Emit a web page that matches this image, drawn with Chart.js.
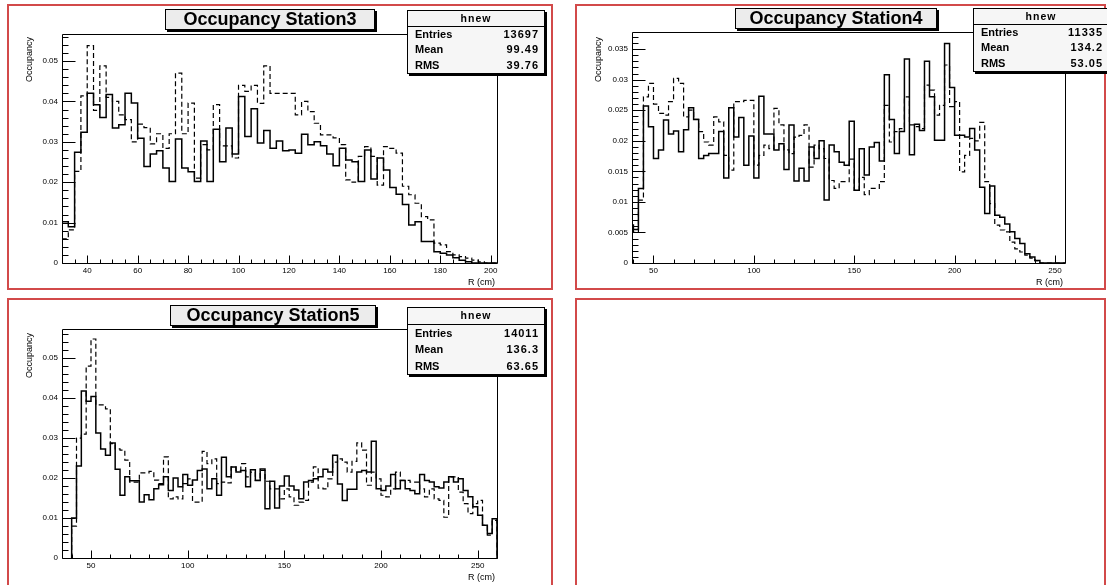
<!DOCTYPE html>
<html>
<head>
<meta charset="utf-8">
<title>Occupancy per station</title>
<script src="https://cdn.jsdelivr.net/npm/chart.js@4.4.1/dist/chart.umd.min.js"></script>
<style>
  html, body { margin: 0; padding: 0; background: #fff; }
  body {
    position: relative; width: 1107px; height: 585px; overflow: hidden;
    font-family: "Liberation Sans", Arial, Helvetica, sans-serif; color: #000;
  }
  .pad { position: absolute; box-sizing: border-box; border: 2px solid #d24a4a; }
  canvas { position: absolute; }
  .htitle {
    position: absolute; box-sizing: border-box; height: 21px; background: #ececec;
    border: 1px solid #000; box-shadow: 2px 2px 0 #000; font-weight: bold; font-size: 18px;
    line-height: 19px; text-align: center; white-space: nowrap; z-index: 2;
  }
  .stats {
    position: absolute; box-sizing: border-box; background: #f6f6f6; border: 1px solid #000;
    box-shadow: 2px 2px 0 #000; font-size: 11px; font-weight: bold; z-index: 2; overflow: hidden;
  }
  .stats .hd { text-align: center; border-bottom: 1px solid #000; font-size: 10.5px; letter-spacing: 1px; }
  .stats .row { display: flex; justify-content: space-between; padding: 0 5px 0 7px; }
  .stats .row span:last-child { letter-spacing: 1px; }
  .ytitle {
    position: absolute; writing-mode: vertical-rl; transform: rotate(180deg);
    font-size: 9px; line-height: 9px; white-space: nowrap; z-index: 2;
  }
  .xtitle {
    position: absolute; width: 50px; font-size: 9px; line-height: 10px;
    text-align: right; white-space: nowrap; z-index: 2;
  }
</style>
</head>
<body>

<div class="pad" style="left:7px;top:4px;width:546px;height:286px"></div>
<div class="pad" style="left:575px;top:4px;width:531px;height:286px"></div>
<div class="pad" style="left:7px;top:298px;width:546px;height:300px"></div>
<div class="pad" style="left:575px;top:298px;width:531px;height:300px"></div>

<canvas id="st3" width="553" height="292" style="left:0;top:0"></canvas>
<canvas id="st4" width="532" height="292" style="left:575px;top:0"></canvas>
<canvas id="st5" width="553" height="293" style="left:0;top:292px"></canvas>

<div class="htitle" style="left:165px;top:9px;width:210px">Occupancy Station3</div>
<div class="htitle" style="left:735px;top:8px;width:202px">Occupancy Station4</div>
<div class="htitle" style="left:170px;top:305px;width:206px">Occupancy Station5</div>

<div class="stats" id="stats3" style="left:407px;top:10px;width:138px"></div>
<div class="stats" id="stats4" style="left:973px;top:8px;width:136px"></div>
<div class="stats" id="stats5" style="left:407px;top:307px;width:138px"></div>

<div class="ytitle" style="left:25px;top:37px">Occupancy</div>
<div class="ytitle" style="left:594px;top:37px">Occupancy</div>
<div class="ytitle" style="left:25px;top:333px">Occupancy</div>

<div class="xtitle" style="left:445px;top:277px">R (cm)</div>
<div class="xtitle" style="left:1013px;top:277px">R (cm)</div>
<div class="xtitle" style="left:445px;top:572px">R (cm)</div>

<script>
// ── DATA ─────────────────────────────────────────────────
// Each histogram: lower edge of first bin, bin width, and one value per bin.
// Solid = first sample, dashed = second sample drawn on the same pad.

const STAT_NAMES = ['Entries', 'Mean', 'RMS'];

// Station 3 : R from 30 cm, 2.5 cm bins
const ST3_LOW = 30, ST3_WIDTH = 2.5;
const ST3_SOLID = [
  0.0102, 0.0090, 0.0274, 0.0324, 0.0420, 0.0392, 0.0360, 0.0417, 0.0334, 0.0342,
  0.0420, 0.0396, 0.0309, 0.0239, 0.0270, 0.0278, 0.0235, 0.0202, 0.0307, 0.0235,
  0.0226, 0.0202, 0.0302, 0.0202, 0.0331, 0.0251, 0.0334, 0.0270, 0.0412, 0.0313,
  0.0382, 0.0297, 0.0328, 0.0284, 0.0302, 0.0278, 0.0280, 0.0272, 0.0319, 0.0293,
  0.0300, 0.0290, 0.0270, 0.0241, 0.0284, 0.0255, 0.0251, 0.0202, 0.0280, 0.0208,
  0.0260, 0.0230, 0.0187, 0.0170, 0.0145, 0.0094, 0.0102, 0.0053, 0.0053, 0.0028,
  0.0024, 0.0020, 0.0013, 0.0007, 0.0003, 0, 0, 0, 0,
];
const ST3_DASHED = [
  0.0060, 0.0082, 0.0227, 0.0414, 0.0538, 0.0378, 0.0488, 0.0410, 0.0400, 0.0367,
  0.0355, 0.0300, 0.0344, 0.0335, 0.0295, 0.0320, 0.0284, 0.0320, 0.0470, 0.0320,
  0.0396, 0.0210, 0.0293, 0.0280, 0.0392, 0.0290, 0.0290, 0.0260, 0.0440, 0.0425,
  0.0440, 0.0395, 0.0488, 0.0420, 0.0420, 0.0420, 0.0420, 0.0367, 0.0400, 0.0375,
  0.0346, 0.0317, 0.0317, 0.0310, 0.0293, 0.0206, 0.0200, 0.0264, 0.0288, 0.0264,
  0.0193, 0.0288, 0.0284, 0.0272, 0.0190, 0.0169, 0.0148, 0.0115, 0.0107, 0.0049,
  0.0045, 0.0028, 0.0020, 0.0016, 0.0012, 0.0007, 0.0003, 0, 0,
];
const ST3_STATS = ['13697', '99.49', '39.76'];

// Station 4 : R from 37.5 cm, 2.5 cm bins
const ST4_LOW = 37.5, ST4_WIDTH = 2.5;
const ST4_SOLID = [
  0.0062, 0.0055, 0.0122, 0.0257, 0.0223, 0.0171, 0.0185, 0.0234, 0.0211, 0.0216,
  0.0182, 0.0218, 0.0254, 0.0235, 0.0171, 0.0176, 0.0179, 0.0179, 0.0215, 0.0139,
  0.0254, 0.0206, 0.0238, 0.0160, 0.0208, 0.0139, 0.0273, 0.0211, 0.0211, 0.0185,
  0.0195, 0.0153, 0.0226, 0.0134, 0.0155, 0.0134, 0.0190, 0.0171, 0.0200, 0.0103,
  0.0193, 0.0182, 0.0165, 0.0160, 0.0232, 0.0119, 0.0187, 0.0144, 0.0190, 0.0197,
  0.0167, 0.0308, 0.0235, 0.0179, 0.0215, 0.0334, 0.0177, 0.0227, 0.0217, 0.0330,
  0.0272, 0.0201, 0.0201, 0.0359, 0.0287, 0.0209, 0.0209, 0.0206, 0.0220, 0.0185,
  0.0124, 0.0081, 0.0126, 0.0078, 0.0075, 0.0064, 0.0051, 0.0040, 0.0032, 0.0015,
  0.0010, 0.0004, 0, 0, 0, 0, 0,
];
const ST4_DASHED = [
  0.0060, 0.0050, 0.0103, 0.0272, 0.0294, 0.0260, 0.0245, 0.0242, 0.0264, 0.0302,
  0.0294, 0.0239, 0.0250, 0.0235, 0.0215, 0.0198, 0.0193, 0.0239, 0.0231, 0.0176,
  0.0152, 0.0264, 0.0264, 0.0266, 0.0266, 0.0160, 0.0176, 0.0193, 0.0187, 0.0253,
  0.0226, 0.0185, 0.0179, 0.0206, 0.0209, 0.0226, 0.0157, 0.0193, 0.0187, 0.0171,
  0.0135, 0.0122, 0.0133, 0.0133, 0.0170, 0.0119, 0.0140, 0.0112, 0.0122, 0.0122,
  0.0133, 0.0258, 0.0198, 0.0215, 0.0220, 0.0272, 0.0226, 0.0223, 0.0220, 0.0291,
  0.0283, 0.0242, 0.0258, 0.0324, 0.0256, 0.0264, 0.0149, 0.0176, 0.0204, 0.0200,
  0.0230, 0.0133, 0.0097, 0.0062, 0.0054, 0.0051, 0.0034, 0.0023, 0.0018, 0.0013,
  0.0008, 0.0004, 0, 0, 0, 0, 0,
];
const ST4_STATS = ['11335', '134.2', '53.05'];

// Station 5 : R from 40 cm, 2.5 cm bins
const ST5_LOW = 40, ST5_WIDTH = 2.5;
const ST5_SOLID = [
  0.0100, 0.0230, 0.0418, 0.0392, 0.0404, 0.0313, 0.0273, 0.0257, 0.0288, 0.0222,
  0.0157, 0.0203, 0.0193, 0.0193, 0.0140, 0.0158, 0.0146, 0.0173, 0.0183, 0.0203,
  0.0169, 0.0200, 0.0178, 0.0209, 0.0182, 0.0195, 0.0219, 0.0223, 0.0173, 0.0198,
  0.0157, 0.0252, 0.0203, 0.0228, 0.0215, 0.0219, 0.0178, 0.0221, 0.0194, 0.0223,
  0.0123, 0.0192, 0.0125, 0.0180, 0.0205, 0.0180, 0.0170, 0.0148, 0.0190, 0.0194,
  0.0198, 0.0203, 0.0222, 0.0215, 0.0257, 0.0185, 0.0144, 0.0172, 0.0172, 0.0215,
  0.0219, 0.0215, 0.0292, 0.0173, 0.0169, 0.0180, 0.0209, 0.0173, 0.0194, 0.0173,
  0.0169, 0.0161, 0.0209, 0.0194, 0.0190, 0.0178, 0.0175, 0.0190, 0.0203, 0.0190,
  0.0198, 0.0169, 0.0153, 0.0128, 0.0107, 0.0082, 0.0061, 0.0098,
];
const ST5_DASHED = [
  0.0080, 0.0300, 0.0310, 0.0480, 0.0548, 0.0383, 0.0383, 0.0373, 0.0286, 0.0273,
  0.0270, 0.0245, 0.0190, 0.0190, 0.0213, 0.0213, 0.0217, 0.0195, 0.0186, 0.0253,
  0.0148, 0.0153, 0.0148, 0.0186, 0.0198, 0.0140, 0.0140, 0.0267, 0.0236, 0.0248,
  0.0186, 0.0190, 0.0188, 0.0228, 0.0219, 0.0236, 0.0203, 0.0215, 0.0194, 0.0219,
  0.0192, 0.0173, 0.0173, 0.0148, 0.0173, 0.0153, 0.0132, 0.0140, 0.0144, 0.0190,
  0.0228, 0.0175, 0.0173, 0.0198, 0.0240, 0.0248, 0.0240, 0.0215, 0.0242, 0.0288,
  0.0270, 0.0182, 0.0215, 0.0198, 0.0157, 0.0153, 0.0173, 0.0215, 0.0194, 0.0194,
  0.0190, 0.0190, 0.0173, 0.0153, 0.0173, 0.0148, 0.0144, 0.0102, 0.0203, 0.0203,
  0.0165, 0.0136, 0.0111, 0.0136, 0.0144, 0.0082, 0.0057, 0.0094,
];
const ST5_STATS = ['14011', '136.3', '63.65'];

const TICK_FONT = { family: '"Liberation Sans", Arial, sans-serif', size: 8 };

// ── HELPERS ──────────────────────────────────────────────

// Outline of a histogram: up from zero at the first edge, one step per bin,
// back down to zero at the last edge (drawn with stepped: 'before').
function histPoints(low, width, values) {
  const pts = [{ x: low, y: 0 }];
  values.forEach((v, i) => pts.push({ x: low + i * width, y: v }));
  const end = low + values.length * width;
  pts.push({ x: end, y: values[values.length - 1] });
  pts.push({ x: end, y: 0 });
  return pts;
}

// ROOT-like frame: box round the plot, ticks pointing inwards
const rootAxes = {
  id: 'rootAxes',
  afterDatasetsDraw(chart, args, o) {
    const { ctx, chartArea: a, scales: { x, y } } = chart;
    const L = Math.round(a.left) + 0.5, R = Math.round(a.right) + 0.5;
    const T = Math.round(a.top) + 0.5,  B = Math.round(a.bottom) + 0.5;
    ctx.save();
    ctx.strokeStyle = '#000';
    ctx.lineWidth = 1;
    ctx.setLineDash([]);
    ctx.beginPath();
    ctx.rect(L, T, R - L, B - T);

    const yr = Math.round(o.yMajor / o.yMinor);
    for (let n = Math.ceil(y.min / o.yMinor - 1e-9); n * o.yMinor <= y.max + 1e-12; n++) {
      const py = Math.round(y.getPixelForValue(n * o.yMinor)) + 0.5;
      ctx.moveTo(L, py);
      ctx.lineTo(L + (n % yr === 0 ? 13 : 6), py);
    }
    const xr = Math.round(o.xMajor / o.xMinor);
    for (let n = Math.ceil(x.min / o.xMinor - 1e-9); n * o.xMinor <= x.max + 1e-9; n++) {
      const px = Math.round(x.getPixelForValue(n * o.xMinor)) + 0.5;
      ctx.moveTo(px, B);
      ctx.lineTo(px, B - (n % xr === 0 ? 8 : 4));
    }
    ctx.stroke();
    ctx.restore();
  },
};

function makeChart(id, cfg) {
  return new Chart(document.getElementById(id), {
    type: 'line',
    data: {
      datasets: [
        {
          data: histPoints(cfg.low, cfg.width, cfg.dashed),
          borderColor: '#000', borderWidth: 1.2, borderDash: [5, 3],
          stepped: 'before', pointRadius: 0, fill: false,
        },
        {
          data: histPoints(cfg.low, cfg.width, cfg.solid),
          borderColor: '#000', borderWidth: 1.5,
          stepped: 'before', pointRadius: 0, fill: false,
        },
      ],
    },
    options: {
      responsive: false,
      animation: false,
      events: [],
      layout: { padding: cfg.padding },
      plugins: {
        legend:  { display: false },
        tooltip: { enabled: false },
        rootAxes: cfg.ticks,
      },
      scales: {
        x: {
          type: 'linear', min: cfg.xMin, max: cfg.xMax,
          grid: { display: false, drawTicks: false }, border: { display: false },
          ticks: {
            stepSize: cfg.ticks.xMajor, includeBounds: false, autoSkip: false,
            maxRotation: 0, padding: 3, color: '#000', font: TICK_FONT,
            callback: (v) => String(v),
          },
          afterFit: (s) => { s.height = 20; },
        },
        y: {
          type: 'linear', min: 0, max: cfg.yMax,
          grid: { display: false, drawTicks: false }, border: { display: false },
          ticks: {
            stepSize: cfg.ticks.yMajor, includeBounds: false,
            padding: 4, color: '#000', font: TICK_FONT,
            callback: (v) => (v === 0 ? '0' : String(v)),
          },
          afterFit: (s) => { s.width = 30; },
        },
      },
    },
    plugins: [rootAxes],
  });
}

function fillStats(id, values, rowHeight) {
  const box = document.getElementById(id);
  box.innerHTML =
    `<div class="hd" style="height:${rowHeight - 1}px;line-height:${rowHeight - 1}px">hnew</div>` +
    STAT_NAMES.map((name, i) =>
      `<div class="row" style="height:${rowHeight}px;line-height:${rowHeight}px">` +
      `<span>${name}</span><span>${values[i]}</span></div>`).join('');
}

// ── PADS ─────────────────────────────────────────────────
makeChart('st3', {
  low: ST3_LOW, width: ST3_WIDTH, solid: ST3_SOLID, dashed: ST3_DASHED,
  xMin: 30, xMax: 202.5, yMax: 0.0567,
  padding: { left: 32, top: 34, right: 56, bottom: 9 },
  ticks: { xMajor: 20, xMinor: 5, yMajor: 0.01, yMinor: 0.002 },
});

makeChart('st4', {
  low: ST4_LOW, width: ST4_WIDTH, solid: ST4_SOLID, dashed: ST4_DASHED,
  xMin: 39.3, xMax: 255, yMax: 0.0378,
  padding: { left: 27, top: 32, right: 42, bottom: 9 },
  ticks: { xMajor: 50, xMinor: 10, yMajor: 0.005, yMinor: 0.001 },
});

makeChart('st5', {
  low: ST5_LOW, width: ST5_WIDTH, solid: ST5_SOLID, dashed: ST5_DASHED,
  xMin: 35, xMax: 260, yMax: 0.0573,
  padding: { left: 32, top: 37, right: 56, bottom: 7 },
  ticks: { xMajor: 50, xMinor: 10, yMajor: 0.01, yMinor: 0.002 },
});

fillStats('stats3', ST3_STATS, 15.5);
fillStats('stats4', ST4_STATS, 15.5);
fillStats('stats5', ST5_STATS, 16.5);
</script>
</body>
</html>
